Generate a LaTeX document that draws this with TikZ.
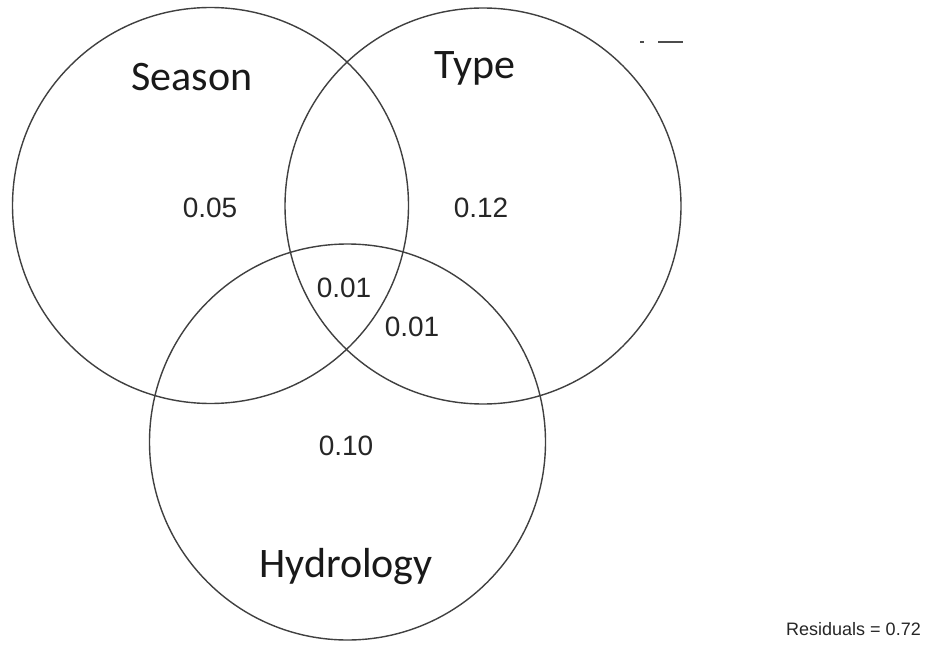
\documentclass[tikz,border=0pt]{standalone}
\usepackage{fontspec}
\setmainfont{Liberation Sans}
\newfontfamily\labelfont{Carlito}
\begin{document}
\begin{tikzpicture}[x=1pt,y=-1pt,
  setcircle/.style={draw=black!75, line width=1.4pt, circle, minimum size=396pt, inner sep=0pt},
  setlabel/.style={font=\labelfont\fontsize{42}{42}\selectfont, text=black!90, inner sep=0pt, anchor=base},
  valuelabel/.style={font=\fontsize{28}{28}\selectfont, text=black!85, inner sep=0pt, anchor=base},
  residlabel/.style={font=\fontsize{18}{18}\selectfont, text=black!85, inner sep=0pt, anchor=base east}]
\useasboundingbox (0,0) rectangle (934,647);
\fill[white] (0,0) rectangle (934,647);
% circles
\node[setcircle] (season) at (210.5,205.5) {};
\node[setcircle] (type) at (483,206) {};
\node[setcircle] (hydro) at (347.5,442) {};
% set names
\node[setlabel] (tseason) at (192,91) {Season};
\node[setlabel] (ttype) at (475,78.5) {Type};
\node[setlabel] (thydro) at (346,577) {Hydrology};
% values
\node[valuelabel] (v05) at (210,218) {0.05};
\node[valuelabel] (v12) at (481,218) {0.12};
\node[valuelabel] (v01a) at (344,297) {0.01};
\node[valuelabel] (v01b) at (412,336) {0.01};
\node[valuelabel] (v10) at (346,455) {0.10};
\node[residlabel] (resid) at (921,635) {Residuals = 0.72};
% stray mark top right
\coordinate (m1a) at (640,42);
\coordinate (m1b) at (644,42);
\coordinate (m2a) at (658,42);
\coordinate (m2b) at (683,42);
\draw[black!70, line width=1.4pt] (m1a) -- (m1b);
\draw[black!70, line width=1.4pt] (m2a) -- (m2b);
\end{tikzpicture}
\end{document}
